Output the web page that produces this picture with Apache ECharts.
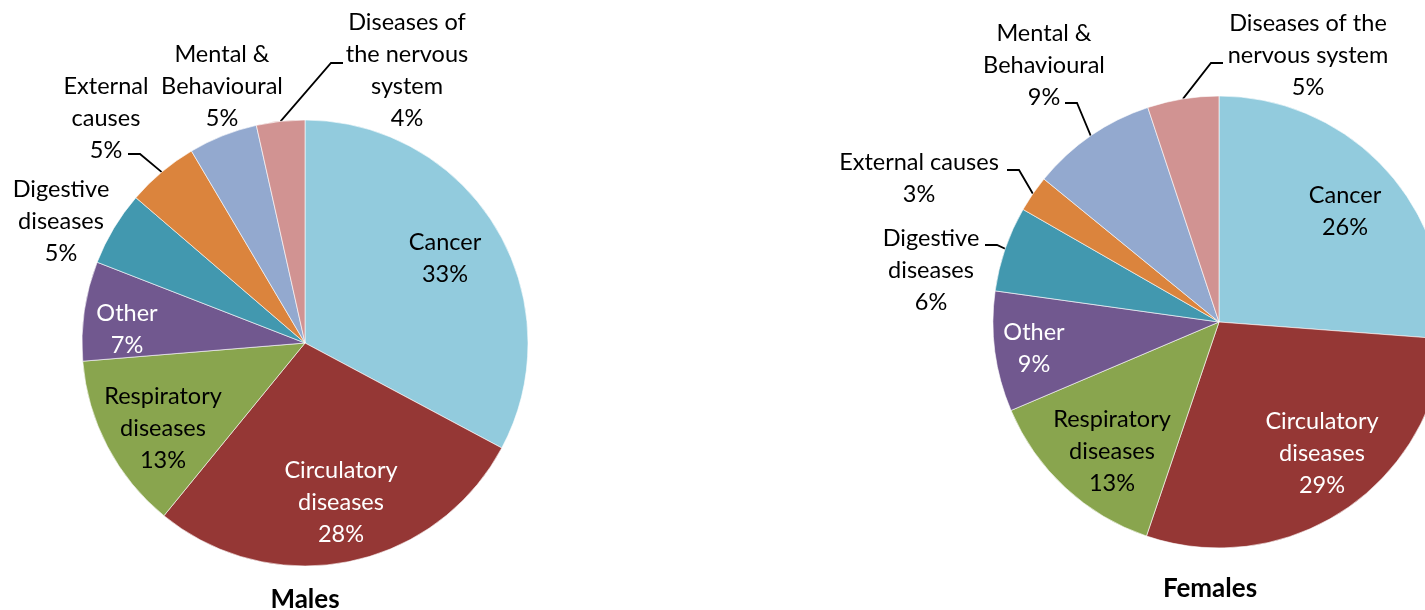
<!DOCTYPE html>
<html>
<head>
<meta charset="utf-8">
<script src="https://cdn.jsdelivr.net/npm/echarts@6/dist/echarts.min.js"></script>
<style>
html,body{margin:0;padding:0;background:#fff;}
#chart{width:1425px;height:610px;}
</style>
</head>
<body>
<div id="chart"></div>
<script>
// ---------- DATA ----------
const categories = ['Cancer', 'Circulatory diseases', 'Respiratory diseases', 'Other',
  'Digestive diseases', 'External causes', 'Mental & Behavioural', 'Diseases of the nervous system'];
const malesValues = [32.8, 28.1, 12.8, 7.2, 5.4, 5.2, 5.0, 3.5];
const femalesValues = [26.2, 29.0, 13.4, 8.6, 6.1, 2.6, 9.0, 5.1];
const malesLabelText = ['Cancer', 'Circulatory\ndiseases', 'Respiratory\ndiseases', 'Other',
  'Digestive\ndiseases', 'External\ncauses', 'Mental &\nBehavioural', 'Diseases of\nthe nervous\nsystem'];
const femalesLabelText = ['Cancer', 'Circulatory\ndiseases', 'Respiratory\ndiseases', 'Other',
  'Digestive\ndiseases', 'External causes', 'Mental &\nBehavioural', 'Diseases of the\nnervous system'];
const chartTitles = ['Males', 'Females'];

// ---------- STYLE / LAYOUT ----------
const colors = ['#92CBDD', '#953735', '#89A54E', '#71588F', '#4298AF', '#DB843D', '#93A9CF', '#D19392'];
const labelColors = ['#000', '#fff', '#000', '#fff', '#000', '#000', '#000', '#000'];
const insideIdx = [0, 1, 2, 3];
const pies = [
  { cx: 305, cy: 343, r: 223, titleX: 305, titleY: 600,
    labelPos: [[445, 258], [341, 502], [163, 428], [127, 329], [61, 221], [106, 118], [222, 86], [407, 70]],
    attach: { 5: [22, 36], 7: [-64, -7] } },
  { cx: 1219, cy: 322, r: 226, titleX: 1210, titleY: 589,
    labelPos: [[1345, 211], [1322, 453], [1112, 451], [1034, 348], [931, 270], [919, 178], [1044, 65], [1308, 55]],
    attach: { 4: [54, -25], 5: [88, -8], 6: [21, 38], 7: [-85, 8] } }
];
const FONT = 'Lato';
const ELBOW = 12;

function midAngles(vals) {
  const total = vals.reduce((a, b) => a + b, 0);
  let acc = 0;
  return vals.map(v => { const m = (acc + v / 2) / total * 2 * Math.PI; acc += v; return m; });
}

function buildSeries(si, vals, texts) {
  const P = pies[si];
  const mids = midAngles(vals);
  return {
    type: 'pie',
    center: [P.cx, P.cy],
    radius: [0, P.r],
    startAngle: 90,
    clockwise: true,
    avoidLabelOverlap: false,
    animation: false,
    silent: true,
    itemStyle: { borderColor: '#ffffff', borderWidth: 0.6 },
    data: vals.map((v, i) => ({
      name: categories[i],
      value: v,
      itemStyle: { color: colors[i] },
      label: {
        show: true,
        position: insideIdx.includes(i) ? 'inside' : 'outside',
        formatter: texts[i] + '\n' + Math.round(v) + '%',
        color: labelColors[i],
        fontFamily: FONT,
        fontSize: 23.5,
        lineHeight: 32,
        align: 'center'
      },
      labelLine: {
        show: !!P.attach[i],
        length: 8, length2: 12,
        lineStyle: { color: '#000', width: 1.8 }
      }
    })),
    labelLayout: function (params) {
      const i = params.dataIndex;
      const [x, y] = P.labelPos[i];
      const out = { x: x, y: y, align: 'center', verticalAlign: 'middle' };
      const at = P.attach[i];
      if (at) {
        const a = mids[i];
        const ax = P.cx + P.r * Math.sin(a);
        const ay = P.cy - P.r * Math.cos(a);
        const px = x + at[0], py = y + at[1];
        const ex = px + (ax > px ? ELBOW : -ELBOW);
        out.labelLinePoints = [[ax, ay], [ex, py], [px, py]];
      }
      return out;
    }
  };
}

const chart = echarts.init(document.getElementById('chart'), null, { renderer: 'canvas' });
chart.setOption({
  backgroundColor: '#ffffff',
  animation: false,
  series: [
    buildSeries(0, malesValues, malesLabelText),
    buildSeries(1, femalesValues, femalesLabelText)
  ],
  graphic: chartTitles.map((t, k) => ({
    type: 'text',
    x: pies[k].titleX,
    y: pies[k].titleY,
    style: { text: t, fontFamily: FONT, fontWeight: 'bold', fontSize: 26, fill: '#000',
      align: 'center', verticalAlign: 'middle' }
  }))
});
</script>
</body>
</html>
